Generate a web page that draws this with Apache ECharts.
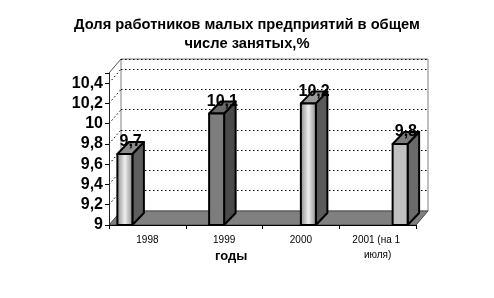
<!DOCTYPE html>
<html><head><meta charset="utf-8">
<script src="https://cdn.jsdelivr.net/npm/echarts@6/dist/echarts.min.js"></script>
<style>html,body{margin:0;padding:0;background:#fff}#c{width:494px;height:298px}</style>
</head><body><div id="c"></div>
<script>
const chartTitle = 'Доля работников малых предприятий в общем\nчисле занятых,%';
const categories = ['1998', '1999', '2000', '2001 (на 1 июля)'];
const values = [9.7, 10.1, 10.2, 9.8];
const yTicks = [9, 9.2, 9.4, 9.6, 9.8, 10, 10.2, 10.4];
const xAxisName = 'годы';
const Y_MIN = 9, Y_MAX = 10.5, Y_STEP = 0.2;

const FONT = '"Liberation Sans", Arial, sans-serif';
const WALL_DX = 12, WALL_DY = -14;
const BAR_DX = 11.5, BAR_DY = -12, BAR_W = 15;
const shine = {type: 'linear', x: 0, y: 0, x2: 1, y2: 0, colorStops: [
  {offset: 0, color: '#858585'}, {offset: 0.5, color: '#eeeeee'}, {offset: 1, color: '#858585'}]};
const frontFill = [shine, '#7d7d7d', shine, '#c0c0c0'];
const sideFill = ['#5e5e5e', '#4a4a4a', '#5a5a5a', '#6a6a6a'];
const topFill = ['#8c8c8c', '#6a6a6a', '#9a9a9a', '#7c7c7c'];

const fmt = v => (Math.abs(v - Y_MAX) < 1e-6 ? '' : String(+v.toFixed(1)).replace('.', ','));

const chart = echarts.init(document.getElementById('c'));
chart.setOption({
  animation: false,
  backgroundColor: '#fff',
  title: {
    text: chartTitle, left: 'center', top: 15, padding: 0,
    textStyle: {fontFamily: FONT, fontSize: 14.7, fontWeight: 'bold', color: '#000', lineHeight: 19}
  },
  grid: [
    {left: 109, right: 78, top: 73, bottom: 73},
    {left: 121, right: 66, top: 59, bottom: 87, show: true, borderColor: '#808080', borderWidth: 1, backgroundColor: '#fff', z: 0},
    {left: 79, right: 48, top: 73, bottom: 73}
  ],
  xAxis: [
    {gridIndex: 0, type: 'category', data: categories,
     axisLine: {lineStyle: {color: '#000', width: 1}},
     axisTick: {show: true, length: 4, lineStyle: {color: '#000'}},
     axisLabel: {interval: 0, margin: 8, fontFamily: FONT, fontSize: 10, color: '#000',
                 width: 72, overflow: 'break', lineHeight: 15},
     z: 5},
    {gridIndex: 1, type: 'category', data: categories, show: false},
    {gridIndex: 2, type: 'category', data: categories, show: false}
  ],
  yAxis: [
    {gridIndex: 0, type: 'value', min: Y_MIN, max: Y_MAX, interval: Y_STEP,
     axisLine: {show: true, lineStyle: {color: '#222', width: 1}},
     axisTick: {show: true, length: 4, lineStyle: {color: '#000'}},
     splitLine: {show: false},
     axisLabel: {formatter: fmt, margin: 6, fontFamily: FONT, fontSize: 16, fontWeight: 'bold', color: '#000'},
     z: 5},
    {gridIndex: 1, type: 'value', min: Y_MIN, max: Y_MAX, interval: Y_STEP,
     axisLine: {show: false}, axisTick: {show: false}, axisLabel: {show: false},
     splitLine: {show: true, lineStyle: {color: '#000', type: [1.5, 2.5], width: 1}}},
    {gridIndex: 2, type: 'value', min: Y_MIN, max: Y_MAX, interval: Y_STEP, show: false}
  ],
  graphic: [{
    type: 'text', left: 231 - 16, top: 250,
    style: {text: xAxisName, fontFamily: FONT, fontSize: 13, fontWeight: 'bold', fill: '#000'}
  }],
  series: [
    {
      type: 'custom', xAxisIndex: 0, yAxisIndex: 0, z: 1, silent: true,
      data: [[0, Y_MIN]],
      renderItem: (params, api) => {
        const cs = params.coordSys;
        const xl = cs.x, xr = cs.x + cs.width;
        const yb = api.coord([0, Y_MIN])[1];
        const yt = api.coord([0, Y_MAX])[1];
        const children = [];
        children.push({type: 'polygon', shape: {points: [[xl, yb], [xr, yb], [xr + WALL_DX, yb + WALL_DY], [xl + WALL_DX, yb + WALL_DY]]},
          style: {fill: '#808080', stroke: '#4a4a4a', lineWidth: 1}});
        yTicks.forEach(v => {
          if (v === Y_MIN) return;
          const y = api.coord([0, v])[1];
          children.push({type: 'line', shape: {x1: xl, y1: y, x2: xl + WALL_DX, y2: y + WALL_DY},
            style: {stroke: '#000', lineWidth: 1, lineDash: [1.5, 2.5]}});
        });
        children.push({type: 'line', shape: {x1: xl, y1: yt, x2: xl + WALL_DX, y2: yt + WALL_DY},
          style: {stroke: '#555', lineWidth: 1}});
        return {type: 'group', children};
      }
    },
    {
      type: 'custom', xAxisIndex: 2, yAxisIndex: 2, z: 3, silent: true,
      data: values.map((v, i) => [i, v]),
      renderItem: (params, api) => {
        const i = api.value(0), v = api.value(1);
        const base = api.coord([i, Y_MIN]);
        const top = api.coord([i, v]);
        const x0 = base[0] - BAR_W / 2, x1 = x0 + BAR_W;
        const yT = top[1], yB = base[1];
        const stroke = {stroke: '#000', lineWidth: 2, lineJoin: 'round'};
        return {type: 'group', children: [
          {type: 'polygon', shape: {points: [[x1, yT], [x1 + BAR_DX, yT + BAR_DY], [x1 + BAR_DX, yB + BAR_DY], [x1, yB]]},
           style: Object.assign({fill: sideFill[i]}, stroke)},
          {type: 'polygon', shape: {points: [[x0, yT], [x0 + BAR_DX, yT + BAR_DY], [x1 + BAR_DX, yT + BAR_DY], [x1, yT]]},
           style: Object.assign({fill: topFill[i]}, stroke)},
          {type: 'rect', shape: {x: x0, y: yT, width: BAR_W, height: yB - yT},
           style: Object.assign({fill: frontFill[i]}, stroke)},
          {type: 'text', x: x0 + (BAR_W + BAR_DX) / 2, y: yT + BAR_DY,
           style: {text: fmt(v), fontFamily: FONT, fontSize: 16, fontWeight: 'bold', fill: '#000',
                   align: 'center', verticalAlign: 'middle'}}
        ]};
      }
    }
  ]
});
</script>
</body></html>
